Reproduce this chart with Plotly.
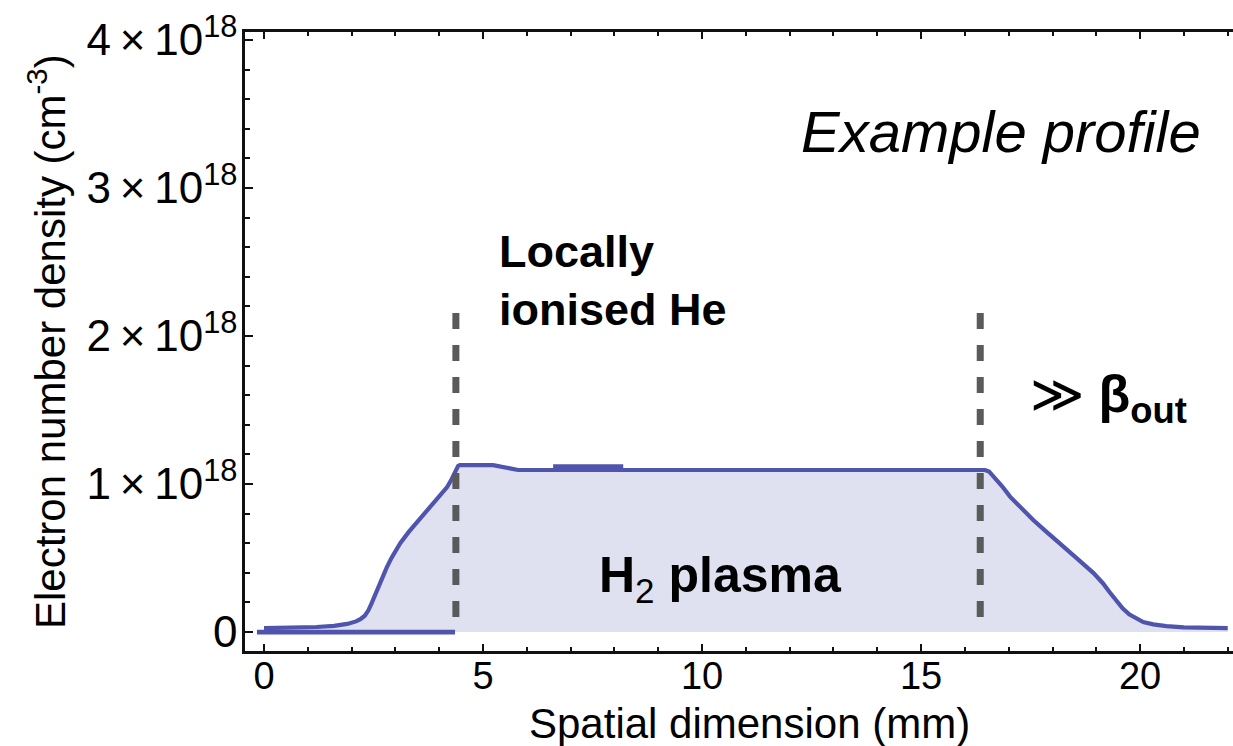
import numpy as np
import plotly.graph_objects as go

# ---- data (density in units of 1e18 cm^-3, position in mm) ----
x_profile = [0.0, 0.6, 1.2, 1.6, 1.9, 2.1, 2.2, 2.3, 2.38, 2.45, 2.52, 2.6, 2.7, 2.8,
             2.9, 3.0, 3.11, 3.3, 3.49, 3.68, 3.86, 4.02, 4.18, 4.27, 4.33, 4.38, 4.43,
             4.47, 5.23, 5.8, 8.0, 10.0, 12.0, 14.0, 16.0, 16.46, 16.55, 16.7, 16.85,
             17.03, 17.3, 17.56, 17.85, 18.17, 18.55, 18.93, 19.15, 19.3, 19.45, 19.6,
             19.75, 19.9, 20.07, 20.3, 20.6, 21.0, 21.5, 22.0]
n_profile = [0.027, 0.029, 0.034, 0.042, 0.055, 0.072, 0.087, 0.11, 0.145, 0.19, 0.24,
             0.30, 0.365, 0.435, 0.495, 0.55, 0.60, 0.675, 0.74, 0.80, 0.86, 0.92, 0.98,
             1.025, 1.065, 1.10, 1.122, 1.128, 1.128, 1.095, 1.095, 1.095, 1.095, 1.095,
             1.095, 1.095, 1.085, 1.04, 0.985, 0.915, 0.83, 0.757, 0.68, 0.60, 0.50, 0.40,
             0.33, 0.27, 0.21, 0.16, 0.12, 0.092, 0.068, 0.052, 0.04, 0.032, 0.028, 0.027]

x_glitch = [6.6, 8.2]
n_glitch = [1.118, 1.118]

x_zero = [-0.16, 4.36]
n_zero = [0.0, 0.0]

x_boundaries = [4.38, 16.35]
n_boundary_top = 2.155

x_ticks = [0, 5, 10, 15, 20]
y_ticks = [0, 1, 2, 3, 4]
y_ticktext = ["0", "1\u2009×\u200910<sup>18</sup>", "2\u2009×\u200910<sup>18</sup>",
              "3\u2009×\u200910<sup>18</sup>", "4\u2009×\u200910<sup>18</sup>"]

SCALE = 1e18
LINE = "#4F55AD"
FILL = "rgba(80,85,173,0.18)"
DASH = "#5A5A5A"
FONT = "Liberation Sans, Arial, Helvetica, sans-serif"

W, H = 1233, 746
L, R, T, B = 245, 0, 32, 95


def px(xp):
    return (xp - L) / (W - L - R)


def py(yp):
    return (H - B - yp) / (H - B - T)


fig = go.Figure()

fig.add_trace(go.Scatter(
    x=x_profile, y=np.array(n_profile) * SCALE, mode="lines",
    line=dict(color=LINE, width=4.2),
    fill="tozeroy", fillcolor=FILL, hoverinfo="skip", showlegend=False))

fig.add_trace(go.Scatter(
    x=x_glitch, y=np.array(n_glitch) * SCALE, mode="lines",
    line=dict(color=LINE, width=4.5), hoverinfo="skip", showlegend=False))

fig.add_trace(go.Scatter(
    x=x_zero, y=np.array(n_zero) * SCALE, mode="lines",
    line=dict(color=LINE, width=4.8), hoverinfo="skip", showlegend=False))

for xb in x_boundaries:
    fig.add_trace(go.Scatter(
        x=[xb, xb], y=[n_boundary_top * SCALE, 0], mode="lines",
        line=dict(color=DASH, width=7, dash="16px,16px"),
        hoverinfo="skip", showlegend=False))

fig.update_xaxes(
    range=[-0.434, 22.12], tickvals=x_ticks, ticktext=[str(v) for v in x_ticks],
    showgrid=False, zeroline=False, showline=True, linecolor="#111", linewidth=2.5,
    mirror="ticks", ticks="inside", ticklen=7, tickwidth=1.8, tickcolor="#111",
    minor=dict(dtick=1, ticks="inside", ticklen=4, tickwidth=1.5, tickcolor="#111",
               showgrid=False),
    tickfont=dict(family=FONT, size=38, color="black"), ticklabelstandoff=-10)

fig.update_yaxes(
    range=[-0.128 * SCALE, 4.054 * SCALE], tickvals=[v * SCALE for v in y_ticks],
    ticktext=y_ticktext, showgrid=False, zeroline=False, showline=True,
    linecolor="#111", linewidth=2.5, mirror=False, ticks="inside", ticklen=8,
    tickwidth=1.8, tickcolor="#111",
    minor=dict(dtick=0.2 * SCALE, ticks="inside", ticklen=5, tickwidth=1.5,
               tickcolor="#111", showgrid=False),
    tickfont=dict(family=FONT, size=44, color="black"), ticklabelstandoff=-4)

ann = [
    dict(text="Spatial dimension (mm)", x=px(749), y=py(723), xanchor="center",
         yanchor="middle", font=dict(family=FONT, size=42, color="black")),
    dict(text="Electron number density (cm<sup>-3</sup>)", x=px(47), y=py(342),
         xanchor="center", yanchor="middle", textangle=-90,
         font=dict(family=FONT, size=42, color="black")),
    dict(text="<i>Example profile</i>", x=px(1203), y=py(132), xanchor="right",
         yanchor="middle", font=dict(family=FONT, size=58, color="black")),
    dict(text="<b>Locally</b>", x=px(497), y=py(252), xanchor="left",
         yanchor="middle", font=dict(family=FONT, size=45, color="black")),
    dict(text="<b>ionised He</b>", x=px(497), y=py(309), xanchor="left",
         yanchor="middle", font=dict(family=FONT, size=45, color="black")),
    dict(text="<b>H</b><sub>2</sub><b> plasma</b>", x=px(720), y=py(578),
         xanchor="center", yanchor="middle",
         font=dict(family=FONT, size=50, color="black")),
    dict(text="≫ <b>β<sub>out</sub></b>", x=px(1028), y=py(398), xanchor="left",
         yanchor="middle", font=dict(family=FONT, size=52, color="black")),
]
for a in ann:
    a.update(xref="paper", yref="paper", showarrow=False)

fig.update_layout(
    width=W, height=H, margin=dict(l=L, r=R, t=T, b=B, autoexpand=False),
    paper_bgcolor="white", plot_bgcolor="white", annotations=ann, showlegend=False)

fig.write_html("out.html")
